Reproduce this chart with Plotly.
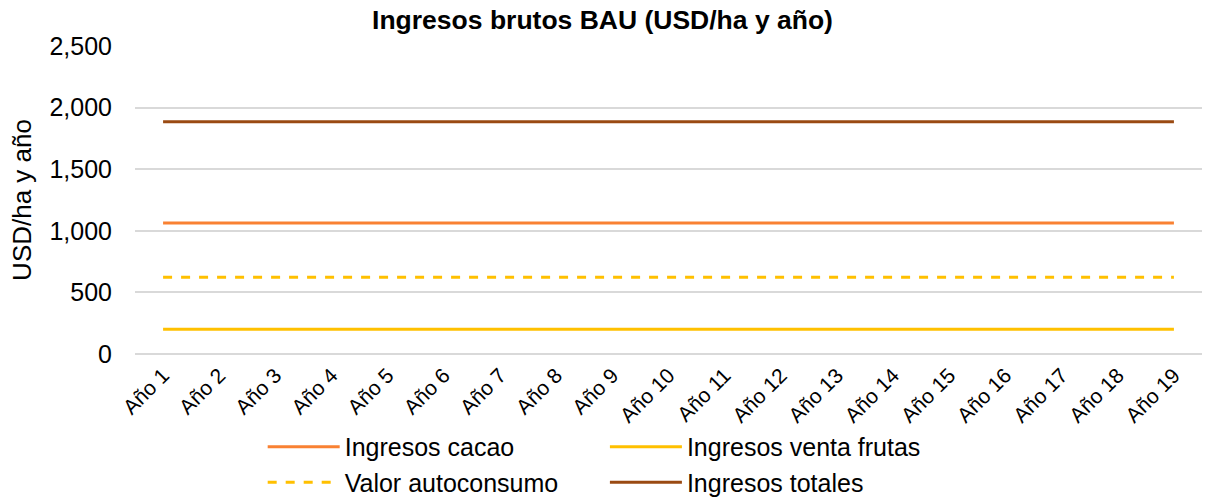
import plotly.graph_objects as go

years = [f"Año {i}" for i in range(1, 20)]
ingresos_cacao = [1063] * 19
ingresos_frutas = [200] * 19
valor_autoconsumo = [622] * 19
ingresos_totales = [1885] * 19
y_title = "USD/ha y año"

fig = go.Figure()
fig.add_trace(go.Scatter(x=years, y=ingresos_cacao, mode="lines", name="Ingresos cacao",
                         line=dict(color="#F98132", width=3), legend="legend"))
fig.add_trace(go.Scatter(x=years, y=ingresos_frutas, mode="lines", name="Ingresos venta frutas",
                         line=dict(color="#FFC000", width=3), legend="legend2"))
fig.add_trace(go.Scatter(x=years, y=valor_autoconsumo, mode="lines", name="Valor autoconsumo",
                         line=dict(color="#FFC000", width=3, dash="dash"), legend="legend"))
fig.add_trace(go.Scatter(x=years, y=ingresos_totales, mode="lines", name="Ingresos totales",
                         line=dict(color="#9A4A12", width=3), legend="legend2"))

legend_style = dict(orientation="v", xref="container", yref="container",
                    xanchor="left", y=0.147, yanchor="top", font=dict(size=25),
                    itemwidth=72, tracegroupgap=0, traceorder="normal",
                    bgcolor="rgba(0,0,0,0)")

fig.update_layout(
    width=1205, height=497,
    margin=dict(l=135, r=3, t=46, b=143, autoexpand=False),
    paper_bgcolor="white", plot_bgcolor="white",
    font=dict(family="Liberation Sans, Arial, sans-serif", color="#000000"),
    title=dict(text="<b>Ingresos brutos BAU (USD/ha y año)</b>", x=0.5, xanchor="center",
               y=0.96, yanchor="middle", font=dict(size=26.5, color="#000000")),
    xaxis=dict(type="category", range=[-0.5, 18.5], tickangle=-45, showgrid=False,
               tickfont=dict(size=21), showline=False, ticks="", automargin=False,
               ticklabelstandoff=4),
    yaxis=dict(range=[0, 2500], dtick=500, tickformat=",", showgrid=True, gridcolor="#D9D9D9",
               gridwidth=1.5, zeroline=True, zerolinecolor="#D9D9D9", zerolinewidth=1.5,
               tickfont=dict(size=25), ticklabelstandoff=22, automargin=False),
    legend=dict(x=0.218, **legend_style),
    legend2=dict(x=0.502, **legend_style),
    showlegend=True,
    annotations=[dict(text=y_title, xref="paper", yref="paper", x=-0.106, y=0.5,
                      xanchor="center", yanchor="middle", textangle=-90, showarrow=False,
                      font=dict(size=26, color="#000000"))],
)

fig.write_html("out.html", config={"displayModeBar": False},
               post_script="document.body.style.margin='0';")
